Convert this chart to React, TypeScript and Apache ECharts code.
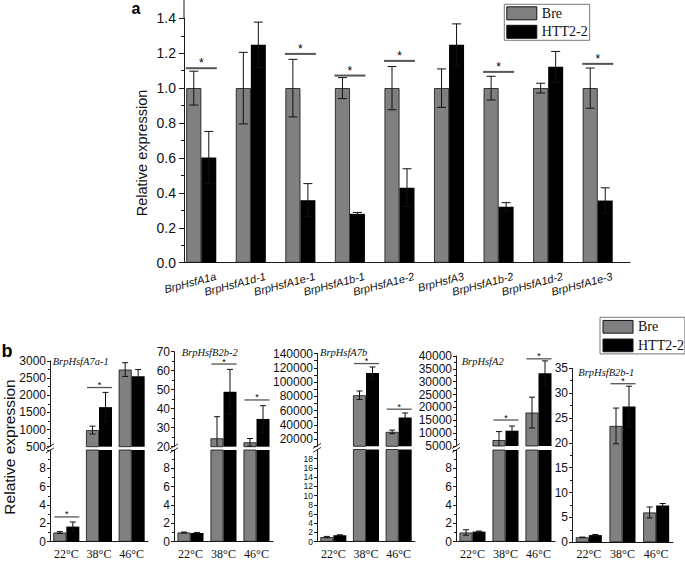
import { useEffect, useRef } from 'react';
import * as echarts from 'echarts';

const SANS = '"Liberation Sans", Arial, Helvetica, sans-serif';
const SERIF = '"Liberation Serif", "Times New Roman", Times, serif';
const AX = '#1a1a1a';
const GREY = '#808080';
const BLACK = '#000000';

// ---------------- Panel a data ----------------
const genesA = ['BrpHsfA1a', 'BrpHsfA1d-1', 'BrpHsfA1e-1', 'BrpHsfA1b-1', 'BrpHsfA1e-2', 'BrpHsfA3', 'BrpHsfA1b-2', 'BrpHsfA1d-2', 'BrpHsfA1e-3'];
const breA = [1, 1, 1, 1, 1, 1, 1, 1, 1];
const breAErr = [0.097, 0.205, 0.165, 0.06, 0.124, 0.11, 0.068, 0.028, 0.115];
const httA = [0.602, 1.248, 0.358, 0.28, 0.43, 1.248, 0.32, 1.122, 0.356];
const httAErr = [0.15, 0.13, 0.095, 0.008, 0.108, 0.12, 0.024, 0.088, 0.073];
const sigA = [[0, 1.114], [2, 1.196], [3, 1.072], [4, 1.156], [6, 1.093], [8, 1.139]];
const yRangeA = [0, 1.4, 0.2];

// ---------------- Panel b data ----------------
const temps = ['22°C', '38°C', '46°C'];
const namesB = ['BrpHsfA7a-1', 'BrpHsfB2b-2', 'BrpHsfA7b', 'BrpHsfA2', 'BrpHsfB2b-1'];

const breA7a1 = [1.0, 985, 2750];
const breA7a1Err = [0.1, 115, 200];
const httA7a1 = [1.65, 1654, 2555];
const httA7a1Err = [0.5, 430, 195];
const sigA7a1 = [[0, 2.7], [1, 2226]];

const breB2b2 = [1.0, 24.4, 22.3];
const breB2b2Err = [0.05, 11.4, 2.0];
const httB2b2 = [0.95, 48.9, 34.6];
const httB2b2Err = [0.06, 11.8, 7.0];
const sigB2b2 = [[1, 63.5], [2, 44.6]];

const breA7b = [1.0, 81500, 30200];
const breA7bErr = [0.15, 6000, 2500];
const httA7b = [1.4, 112700, 50300];
const httA7bErr = [0.1, 8400, 6400];
const sigA7b = [[1, 125900], [2, 62000]];

const breA2 = [1.0, 7300, 18000];
const breA2Err = [0.3, 3300, 6000];
const httA2 = [1.1, 10950, 33300];
const httA2Err = [0.06, 1800, 4800];
const sigA2 = [[1, 15100], [2, 38900]];

const breB2b1 = [1.0, 23.4, 6.0];
const breB2b1Err = [0.05, 3.6, 1.1];
const httB2b1 = [1.45, 27.3, 7.4];
const httB2b1Err = [0.12, 4.1, 0.4];
const sigB2b1 = [[1, 31.9]];

const DATA_B = [
  { bre: breA7a1, breErr: breA7a1Err, htt: httA7a1, httErr: httA7a1Err, sig: sigA7a1 },
  { bre: breB2b2, breErr: breB2b2Err, htt: httB2b2, httErr: httB2b2Err, sig: sigB2b2 },
  { bre: breA7b, breErr: breA7bErr, htt: httA7b, httErr: httA7bErr, sig: sigA7b },
  { bre: breA2, breErr: breA2Err, htt: httA2, httErr: httA2Err, sig: sigA2 },
  { bre: breB2b1, breErr: breB2b1Err, htt: httB2b1, httErr: httB2b1Err, sig: sigB2b1 },
];

// axis ranges [min, max, interval] for each sub-plot part (upper, lower)
const LAYOUT_B: any[] = [
  { left: 50, width: 98, title: [52.7, 361.5], parts: [
    { top: 361, bottom: 446.7, range: [500, 3000, 500], minor: true },
    { top: 450, bottom: 541.7, range: [0, 10, 2], minor: true, hideMax: true },
  ] },
  { left: 174, width: 99, title: [181.7, 352.5], parts: [
    { top: 351.7, bottom: 446.7, range: [20, 70, 10], minor: true },
    { top: 450, bottom: 541.7, range: [0, 10, 2], minor: true, hideMax: true },
  ] },
  { left: 317, width: 98, title: [320, 352.8], parts: [
    { top: 353.5, bottom: 446.3, range: [10000, 140000, 10000], step: 20000 },
    { top: 449.5, bottom: 541.7, range: [0, 20, 2], hideMax: true, labelSize: 8.5 },
  ] },
  { left: 456, width: 99, title: [461.7, 361.7], parts: [
    { top: 356, bottom: 446, range: [5000, 40000, 5000], minor: true },
    { top: 450, bottom: 541.7, range: [0, 10, 2], minor: true, hideMax: true },
  ] },
  { left: 572, width: 101, title: [578.3, 372.3], parts: [
    { top: 368.3, bottom: 542.3, range: [0, 35, 5], minor: true },
  ] },
];

function barSeries(name: string, gi: number, data: number[], w: number, color: string) {
  return {
    type: 'bar', name, xAxisIndex: gi, yAxisIndex: gi, data, barWidth: w, barGap: '0%',
    clip: true, silent: true,
    itemStyle: { color, borderColor: '#111', borderWidth: color === BLACK ? 0 : 0.8 },
  };
}

function errSeries(gi: number, vals: number[], errs: number[], dx: number, cap: number) {
  return {
    type: 'custom', xAxisIndex: gi, yAxisIndex: gi, clip: true, silent: true, z: 5,
    color: '#111', itemStyle: { color: '#111' },
    encode: { x: 0, y: 1 },
    data: vals.map((v, i) => [i, v, errs[i]]),
    renderItem: (_p: any, api: any) => {
      const x = api.value(0);
      const v = api.value(1);
      const e = api.value(2);
      const hi = api.coord([x, v + e]);
      const lo = api.coord([x, v - e]);
      const px = hi[0] + dx;
      const style = { stroke: '#111', lineWidth: 1 };
      return {
        type: 'group',
        children: [
          { type: 'line', shape: { x1: px, y1: hi[1], x2: px, y2: lo[1] }, style },
          { type: 'line', shape: { x1: px - cap / 2, y1: hi[1], x2: px + cap / 2, y2: hi[1] }, style },
          { type: 'line', shape: { x1: px - cap / 2, y1: lo[1], x2: px + cap / 2, y2: lo[1] }, style },
        ],
      };
    },
  };
}

function sigSeries(gi: number, data: number[][], x0: number, x1: number, gap: number, fs: number, lw: number) {
  return {
    type: 'custom', xAxisIndex: gi, yAxisIndex: gi, clip: false, silent: true, z: 6,
    color: '#000', itemStyle: { color: '#000' },
    encode: { x: 0, y: 1 },
    data,
    renderItem: (_p: any, api: any) => {
      const c = api.coord([api.value(0), api.value(1)]);
      return {
        type: 'group',
        children: [
          { type: 'line', shape: { x1: c[0] + x0, y1: c[1], x2: c[0] + x1, y2: c[1] }, style: { stroke: '#555', lineWidth: lw } },
          { type: 'text', x: c[0] + (x0 + x1) / 2, y: c[1] - gap,
            style: { text: '*', fontSize: fs, fontFamily: SANS, fill: '#000', align: 'center', verticalAlign: 'middle' } },
        ],
      };
    },
  };
}

function buildOption() {
  const grid: any[] = [];
  const xAxis: any[] = [];
  const yAxis: any[] = [];
  const series: any[] = [];
  const graphic: any[] = [];

  // ---------------- Panel a ----------------
  const topA = 18.3;
  const botA = 262.7;
  grid.push({ left: 184, top: topA, width: 446, height: botA - topA });
  xAxis.push({
    type: 'category', gridIndex: 0, data: genesA,
    axisLine: { lineStyle: { color: AX, width: 1 } },
    axisTick: { alignWithLabel: true, length: 4, lineStyle: { color: AX } },
    axisLabel: { show: false }, splitLine: { show: false },
  });
  yAxis.push({
    type: 'value', gridIndex: 0, min: yRangeA[0], max: yRangeA[1], interval: yRangeA[2],
    axisLine: { show: true, lineStyle: { color: AX, width: 1 } },
    axisTick: { show: true, length: 5, lineStyle: { color: AX } },
    minorTick: { show: true, splitNumber: 2, length: 3, lineStyle: { color: AX } },
    splitLine: { show: false },
    axisLabel: { fontSize: 14, fontFamily: SANS, color: '#111', margin: 8, formatter: (v: number) => v.toFixed(1) },
  });
  series.push(barSeries('Bre', 0, breA, 15, GREY));
  series.push(barSeries('HTT2-2', 0, httA, 15, BLACK));
  series.push({
    type: 'bar', name: 'pad', xAxisIndex: 0, yAxisIndex: 0, data: genesA.map(() => 0),
    barWidth: 15, barGap: '0%', silent: true, itemStyle: { color: 'rgba(0,0,0,0)' },
  });
  series.push(errSeries(0, breA, breAErr, -15, 9));
  series.push(errSeries(0, httA, httAErr, 0, 9));
  series.push(sigSeries(0, sigA, -23, 8, 5, 12, 2));
  // rotated category labels
  series.push({
    type: 'custom', xAxisIndex: 0, yAxisIndex: 0, clip: false, silent: true,
    color: '#111', itemStyle: { color: '#111' },
    encode: { x: 0, y: 1 },
    data: genesA.map((_g, i) => [i, 0]),
    renderItem: (p: any, api: any) => {
      const c = api.coord([api.value(0), 0]);
      return {
        type: 'text', x: c[0] + 7, y: c[1] + 13, rotation: (15 * Math.PI) / 180,
        style: { text: genesA[p.dataIndex], fontSize: 11, fontStyle: 'italic', fontFamily: SANS, fill: '#111', align: 'right', verticalAlign: 'middle' },
      };
    },
  });
  // axis line extension above 1.4
  graphic.push({ type: 'line', shape: { x1: 184, y1: 0, x2: 184, y2: topA }, style: { stroke: AX, lineWidth: 1 } });
  graphic.push({ type: 'text', x: 131.5, y: 8, style: { text: 'a', fontSize: 16, fontWeight: 'bold', fontFamily: SANS, fill: '#000', align: 'left', verticalAlign: 'middle' } });
  graphic.push({ type: 'text', x: 141.7, y: 153, rotation: Math.PI / 2, style: { text: 'Relative expression', fontSize: 14.5, fontFamily: SANS, fill: '#111', align: 'center', verticalAlign: 'middle' } });

  // ---------------- Panel b ----------------
  LAYOUT_B.forEach((sp, si) => {
    const d = DATA_B[si];
    sp.parts.forEach((pt: any, pi: number) => {
      const gi = grid.length;
      const isBottom = pi === sp.parts.length - 1;
      const [mn, mx, iv] = pt.range;
      grid.push({ left: sp.left, width: sp.width, top: pt.top, height: pt.bottom - pt.top });
      xAxis.push({
        type: 'category', gridIndex: gi, data: temps, show: isBottom,
        axisLine: { lineStyle: { color: AX, width: 1 } },
        axisTick: { length: 4, lineStyle: { color: AX } },
        axisLabel: { interval: 0, fontSize: 12, fontFamily: SERIF, color: '#111', margin: 6 },
        splitLine: { show: false },
      });
      yAxis.push({
        type: 'value', gridIndex: gi, min: mn, max: mx, interval: iv,
        axisLine: { show: true, lineStyle: { color: AX, width: 1 } },
        axisTick: { show: true, length: 3, lineStyle: { color: AX } },
        minorTick: { show: !!pt.minor, splitNumber: 2, length: 2, lineStyle: { color: AX } },
        splitLine: { show: false },
        axisLabel: {
          fontSize: pt.labelSize || 12, fontFamily: SANS, color: '#111', margin: 4,
          lineHeight: pt.labelSize ? 8.5 : undefined,
          showMaxLabel: !pt.hideMax,
          formatter: (v: number) => (pt.step ? (v % pt.step === 0 ? String(v) : '') : String(v)),
        },
      });
      series.push(barSeries('Bre', gi, d.bre, 13, GREY));
      series.push(barSeries('HTT2-2', gi, d.htt, 13, BLACK));
      series.push(errSeries(gi, d.bre, d.breErr, -6.5, 6));
      series.push(errSeries(gi, d.htt, d.httErr, 6.5, 6));
      const sig = d.sig.filter((s) => s[1] >= mn && s[1] <= mx);
      if (sig.length) series.push(sigSeries(gi, sig, -12, 13, 2.5, 9, 1.3));
    });
    // title
    graphic.push({ type: 'text', x: sp.title[0], y: sp.title[1], style: { text: namesB[si], fontSize: 10.5, fontStyle: 'italic', fontFamily: SERIF, fill: '#111', align: 'left', verticalAlign: 'middle' } });
    // axis break marks
    if (sp.parts.length > 1) {
      const J = (sp.parts[0].bottom + sp.parts[1].top) / 2;
      const L = sp.left;
      graphic.push({ type: 'line', shape: { x1: L - 4, y1: J + 0.5, x2: L + 4, y2: J - 4.5 }, style: { stroke: '#333', lineWidth: 1 } });
      graphic.push({ type: 'line', shape: { x1: L - 4, y1: J + 4.5, x2: L + 4, y2: J - 0.5 }, style: { stroke: '#333', lineWidth: 1 } });
    }
  });
  graphic.push({ type: 'text', x: 1.5, y: 351, style: { text: 'b', fontSize: 18, fontWeight: 'bold', fontFamily: SANS, fill: '#000', align: 'left', verticalAlign: 'middle' } });
  graphic.push({ type: 'text', x: 9, y: 447, rotation: Math.PI / 2, style: { text: 'Relative expression', fontSize: 15.5, fontFamily: SANS, fill: '#111', align: 'center', verticalAlign: 'middle' } });

  const legendBase = {
    data: ['Bre', 'HTT2-2'], orient: 'vertical', icon: 'rect', itemWidth: 30, itemHeight: 13, itemGap: 4.5,
    borderColor: '#777', borderWidth: 1, backgroundColor: '#fff', selectedMode: false,
    textStyle: { fontFamily: SERIF, fontSize: 14, color: '#111', lineHeight: 13 },
    itemStyle: { borderColor: '#111', borderWidth: 1 },
  };

  return {
    animation: false,
    backgroundColor: '#ffffff',
    textStyle: { fontFamily: SANS },
    grid, xAxis, yAxis, series, graphic,
    legend: [
      { ...legendBase, left: 504.3, top: 4.3, padding: [2, 2, 1.5, 2] },
      { ...legendBase, left: 600, top: 317.3, itemHeight: 12.7, itemGap: 4.6, padding: [2.5, 1, 1.5, 2.5] },
    ],
  };
}

export default function App() {
  const ref = useRef<HTMLDivElement>(null);
  useEffect(() => {
    if (!ref.current) return;
    const chart = echarts.init(ref.current, undefined, { renderer: 'svg' });
    chart.setOption(buildOption() as any);
    return () => chart.dispose();
  }, []);
  return (
    <div
      ref={ref}
      style={{ position: 'fixed', left: 0, top: 0, width: 685, height: 561, background: '#fff' }}
    />
  );
}
